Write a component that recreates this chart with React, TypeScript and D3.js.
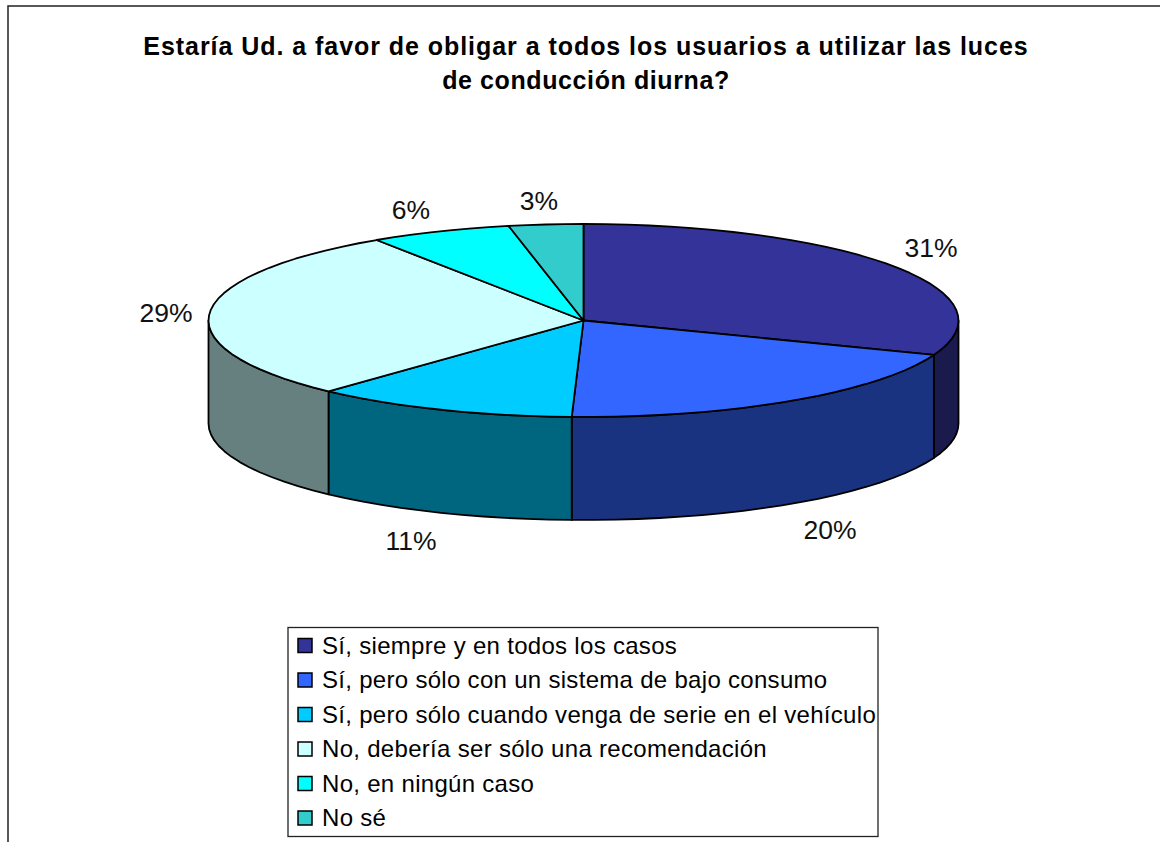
import React from 'react';
import * as d3 from 'd3';

const titleLines = [
    'Estaría Ud. a favor de obligar a todos los usuarios a utilizar las luces',
    'de conducción diurna?',
];
const categories = [
    'Sí, siempre y en todos los casos',
    'Sí, pero sólo con un sistema de bajo consumo',
    'Sí, pero sólo cuando venga de serie en el vehículo',
    'No, debería ser sólo una recomendación',
    'No, en ningún caso',
    'No sé',
];
const shares = [30.8, 19.7, 11.4, 28.8, 6.1, 3.2];
const topColors = ['#333399', '#3366ff', '#00ccff', '#ccffff', '#00ffff', '#33cccc'];
const wallColors = ['#1a1a4d', '#1a3380', '#006680', '#668080', '#008080', '#1a6666'];
// label anchor, picked by eye for each slice
const labelX = [931, 830, 411, 166, 411, 539];
const labelY = [257, 539, 550, 322, 219, 210];

const font = '"Liberation Sans", Arial, sans-serif';
const cx = 583.5;
const cy = 320.5;
const rx = 375;
const ry = 96.5;
const depth = 103;

// angle is measured clockwise from the top of the pie
const px = (a: number) => cx + rx * Math.sin(a);
const py = (a: number) => cy - ry * Math.cos(a);
const line = d3.line<[number, number]>();

const arcAngles = (a0: number, a1: number) => {
    const n = Math.max(2, Math.ceil((a1 - a0) / 0.06));
    return d3.range(n + 1).map((i) => a0 + ((a1 - a0) * i) / n);
};

export default function App() {
    const slices = d3.pie<number>().sort(null).value((d) => d)(shares);
    const percent = (v: number) => `${Math.round(v)}%`;
    const legendY = d3.scalePoint<string>().domain(categories).range([645.5, 818]);

    return (
        <svg width={1160} height={842} style={{ position: 'absolute', left: 0, top: 0, background: '#fff' }}>
            <path d="M8 842V6H1160" fill="none" stroke="#222" strokeWidth={1.5} />

            {titleLines.map((t, i) => (
                <text key={t} x={586} y={55 + i * 34} textAnchor="middle" fontFamily={font} fontWeight="bold" fontSize={25} letterSpacing={i ? 0.6 : 0.95} fill="#000">
                    {t}
                </text>
            ))}

            {/* walls */}
            {slices.map((s, i) => {
                const a0 = Math.max(s.startAngle, Math.PI / 2);
                const a1 = Math.min(s.endAngle, (Math.PI * 3) / 2);
                if (a1 <= a0) return null;
                const rim = arcAngles(a0, a1).map((a) => [px(a), py(a)] as [number, number]);
                const lower = rim.slice().reverse().map(([x, y]) => [x, y + depth] as [number, number]);
                return <path key={i} d={line([...rim, ...lower]) + 'Z'} fill={wallColors[i]} stroke="#000" strokeWidth={1.8} strokeLinejoin="round" />;
            })}

            {/* top of the pie */}
            {slices.map((s, i) => {
                const rim = arcAngles(s.startAngle, s.endAngle).map((a) => [px(a), py(a)] as [number, number]);
                return <path key={i} d={line([[cx, cy], ...rim]) + 'Z'} fill={topColors[i]} stroke="#000" strokeWidth={1.8} strokeLinejoin="round" />;
            })}

            {shares.map((v, i) => (
                <text key={i} x={labelX[i]} y={labelY[i]} textAnchor="middle" fontFamily={font} fontSize={26.5} fill="#111">
                    {percent(v)}
                </text>
            ))}

            {/* legend */}
            <rect x={288} y={627.5} width={590} height={209} fill="#fff" stroke="#222" strokeWidth={1.3} />
            {categories.map((c, i) => (
                <g key={c}>
                    <rect x={298} y={legendY(c)! - 7} width={14} height={14} fill={topColors[i]} stroke="#000" strokeWidth={1.5} />
                    <text x={322} y={legendY(c)! + 8} fontFamily={font} fontSize={24} letterSpacing={0.3} fill="#000">
                        {c}
                    </text>
                </g>
            ))}
        </svg>
    );
}
